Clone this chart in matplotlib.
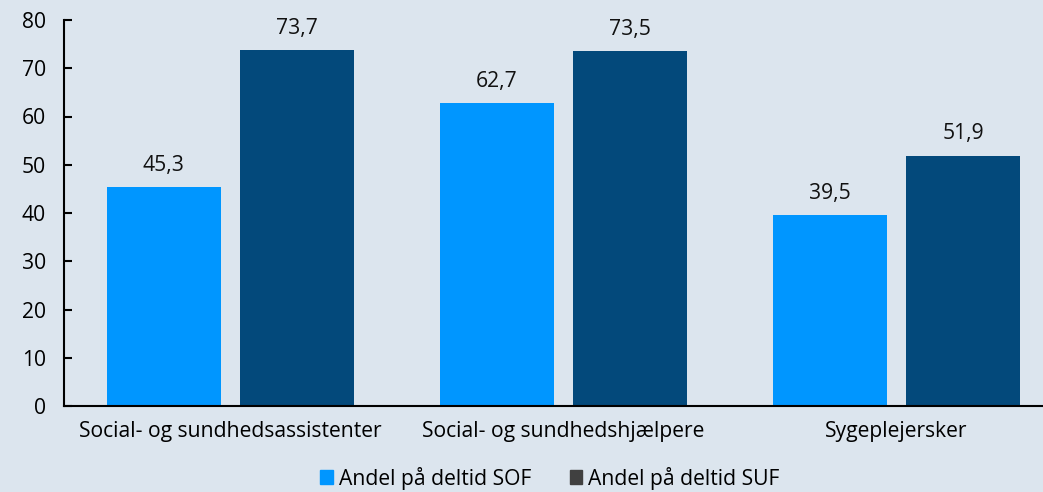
import matplotlib.pyplot as plt
from matplotlib.patches import Patch
import numpy as np

plt.rcParams['font.family'] = ['Open Sans', 'DejaVu Sans']

categories = ['Social- og sundhedsassistenter', 'Social- og sundhedshjælpere', 'Sygeplejersker']
sof = [45.3, 62.7, 39.5]
suf = [73.7, 73.5, 51.9]
series_names = ['Andel på deltid SOF', 'Andel på deltid SUF']
yticks = [0, 10, 20, 30, 40, 50, 60, 70, 80]

bg = '#dce5ee'
c_sof = '#0096ff'
c_suf = '#03497b'
c_suf_legend = '#404040'
fs = 15.2

fig = plt.figure(figsize=(10.43, 4.92), dpi=100, facecolor=bg)
ax = fig.add_axes([64 / 1043, 86 / 492, 979 / 1043, 386 / 492])
ax.set_facecolor(bg)

x = np.arange(len(categories))
w = 0.342
b1 = ax.bar(x - 0.2, sof, w, color=c_sof)
b2 = ax.bar(x + 0.2, suf, w, color=c_suf)

for bars in (b1, b2):
    for b in bars:
        h = b.get_height()
        ax.annotate(f'{h:.1f}'.replace('.', ','), (b.get_x() + b.get_width() / 2, h),
                    xytext=(0, 8), textcoords='offset points',
                    ha='center', va='bottom', fontsize=fs, color='#111111')

ax.set_xlim(-0.5, 2.44)
ax.set_ylim(0, 80)
ax.set_yticks(yticks)
ax.set_xticks(x)
ax.set_xticklabels(categories, fontsize=fs)
ax.tick_params(axis='y', direction='in', length=6, width=1.5, labelsize=fs, pad=13)
ax.tick_params(axis='x', length=0, pad=11)

for s in ('top', 'right'):
    ax.spines[s].set_visible(False)
for s in ('left', 'bottom'):
    ax.spines[s].set_linewidth(1.5)
    ax.spines[s].set_color('black')

handles = [Patch(color=c_sof), Patch(color=c_suf_legend)]
fig.legend(handles, series_names, loc='center', bbox_to_anchor=(550 / 1043, 14 / 492),
           ncol=2, frameon=False, fontsize=fs, handlelength=0.6, handleheight=0.6,
           handletextpad=0.3, columnspacing=1.8)

fig.savefig('out.png', dpi=100, facecolor=bg)
